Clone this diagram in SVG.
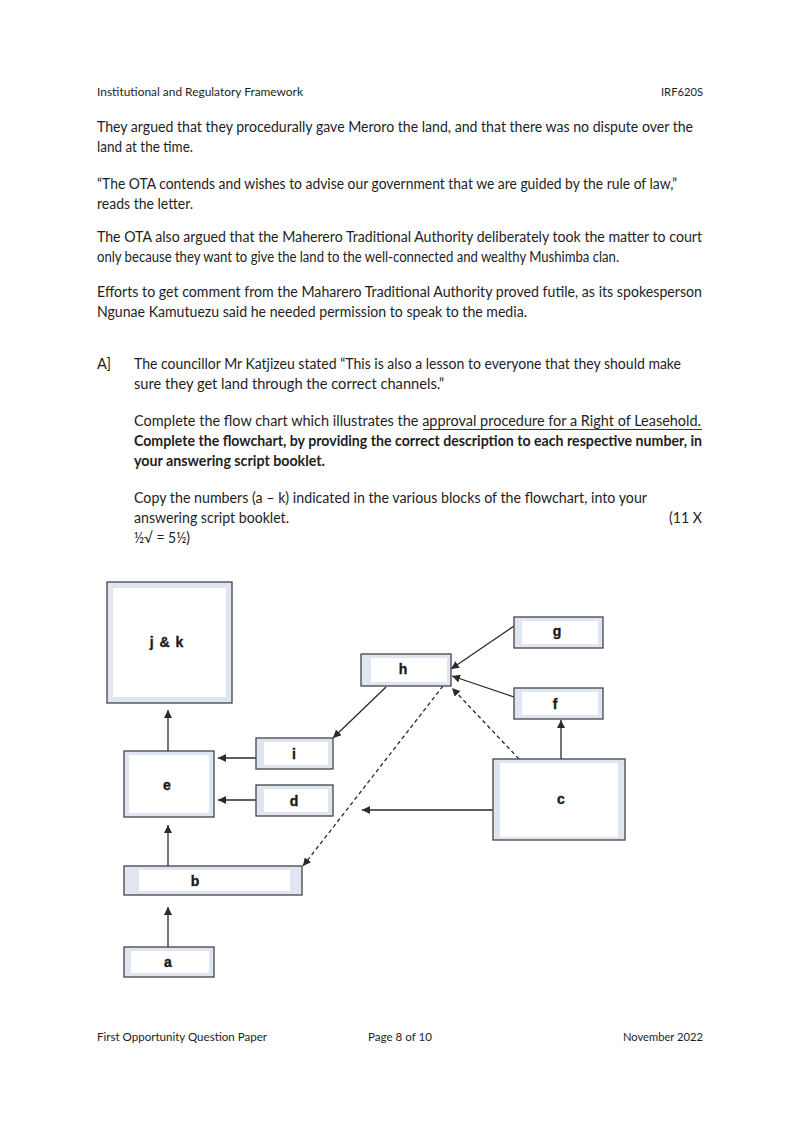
<svg xmlns="http://www.w3.org/2000/svg" width="794" height="1122" viewBox="0 0 794 1122">
<defs>
<marker id="ah" viewBox="0 0 10 10" refX="10" refY="5" markerWidth="8" markerHeight="8" markerUnits="userSpaceOnUse" orient="auto">
<path d="M0,0 L10,5 L0,10 z" fill="#2a2a2a"/>
</marker>
<style>
.t{font-family:Lato,"Open Sans","Liberation Sans",sans-serif;font-size:14.6px;fill:#1e1e1e}
.s{font-family:Lato,"Open Sans","Liberation Sans",sans-serif;font-size:11.2px;fill:#1e1e1e}
.b{font-weight:bold}
.box{fill:#dfe5f1;stroke:#444;stroke-width:1.3}
.in{fill:#fff}
.lbl{font-family:"Liberation Sans",Arial,sans-serif;font-weight:bold;font-size:14px;fill:#1a1a1a;stroke:#1a1a1a;stroke-width:0.35;text-anchor:middle}
.c{stroke:#2a2a2a;stroke-width:1.3;fill:none;marker-end:url(#ah)}
.d{stroke-dasharray:4 3}
</style>
</defs>
<rect width="794" height="1122" fill="#fff"/>

<g id="header">
<text class="s" x="97" y="96" textLength="206" lengthAdjust="spacingAndGlyphs">Institutional and Regulatory Framework</text>
<text class="s" x="703" y="96" text-anchor="end">IRF620S</text>
</g>

<g id="body">
<text class="t" x="97" y="132" textLength="596" lengthAdjust="spacingAndGlyphs">They argued that they procedurally gave Meroro the land, and that there was no dispute over the</text>
<text class="t" x="97" y="152" textLength="96" lengthAdjust="spacingAndGlyphs">land at the time.</text>
<text class="t" x="97" y="189" textLength="580" lengthAdjust="spacingAndGlyphs">“The OTA contends and wishes to advise our government that we are guided by the rule of law,”</text>
<text class="t" x="97" y="209" textLength="96" lengthAdjust="spacingAndGlyphs">reads the letter.</text>
<text class="t" x="97" y="242" textLength="605" lengthAdjust="spacingAndGlyphs">The OTA also argued that the Maherero Traditional Authority deliberately took the matter to court</text>
<text class="t" x="97" y="262" textLength="522" lengthAdjust="spacingAndGlyphs">only because they want to give the land to the well-connected and wealthy Mushimba clan.</text>
<text class="t" x="97" y="297" textLength="605" lengthAdjust="spacingAndGlyphs">Efforts to get comment from the Maharero Traditional Authority proved futile, as its spokesperson</text>
<text class="t" x="97" y="317" textLength="430" lengthAdjust="spacingAndGlyphs">Ngunae Kamutuezu said he needed permission to speak to the media.</text>

<text class="t" x="97" y="369">A]</text>
<text class="t" x="134" y="369" textLength="547" lengthAdjust="spacingAndGlyphs">The councillor Mr Katjizeu stated “This is also a lesson to everyone that they should make</text>
<text class="t" x="134" y="389" textLength="310" lengthAdjust="spacingAndGlyphs">sure they get land through the correct channels.”</text>
<text class="t" x="134" y="426" textLength="567" lengthAdjust="spacingAndGlyphs">Complete the flow chart which illustrates the approval procedure for a Right of Leasehold.</text>
<line x1="423" y1="429.5" x2="702" y2="429.5" stroke="#1e1e1e" stroke-width="0.9"/>
<text class="t b" x="134" y="446" textLength="568" lengthAdjust="spacingAndGlyphs">Complete the flowchart, by providing the correct description to each respective number, in</text>
<text class="t b" x="134" y="466" textLength="191" lengthAdjust="spacingAndGlyphs">your answering script booklet.</text>
<text class="t" x="134" y="503" textLength="513" lengthAdjust="spacingAndGlyphs">Copy the numbers (a – k) indicated in the various blocks of the flowchart, into your</text>
<text class="t" x="134" y="523" textLength="155" lengthAdjust="spacingAndGlyphs">answering script booklet.</text>
<text class="t" x="669" y="523" textLength="33" lengthAdjust="spacingAndGlyphs">(11 X</text>
<text class="t" x="134" y="543" textLength="56" lengthAdjust="spacingAndGlyphs">½√ = 5½)</text>
</g>

<g id="connectors">
<line class="c" x1="168" y1="751" x2="168" y2="710"/>
<line class="c" x1="256" y1="758" x2="218" y2="758"/>
<line class="c" x1="256" y1="800" x2="218" y2="800"/>
<line class="c" x1="168" y1="866" x2="168" y2="825"/>
<line class="c" x1="168" y1="947" x2="168" y2="907"/>
<line class="c" x1="386" y1="687" x2="333" y2="738"/>
<line class="c" x1="514" y1="626" x2="451" y2="669"/>
<line class="c" x1="514" y1="697" x2="452" y2="676"/>
<line class="c d" x1="519" y1="759" x2="452" y2="688"/>
<line class="c d" x1="443" y1="686" x2="303" y2="866"/>
<line class="c" x1="493" y1="810" x2="362" y2="810"/>
<line class="c" x1="561" y1="759" x2="561" y2="720"/>
</g>

<g id="node-jk">
<rect class="box" x="107" y="582" width="125" height="121"/>
<rect class="in" x="113" y="588" width="113" height="109"/>
<text class="lbl" x="167" y="647" letter-spacing="1">j &amp; k</text>
</g>
<g id="node-e">
<rect class="box" x="124" y="751" width="90" height="66"/>
<rect class="in" x="129" y="755" width="80" height="58"/>
<text class="lbl" x="167" y="790">e</text>
</g>
<g id="node-i">
<rect class="box" x="256" y="738" width="77" height="31"/>
<rect class="in" x="264" y="742" width="64" height="23"/>
<text class="lbl" x="294" y="759">i</text>
</g>
<g id="node-d">
<rect class="box" x="256" y="785" width="77" height="31"/>
<rect class="in" x="264" y="789" width="64" height="23"/>
<text class="lbl" x="294" y="806">d</text>
</g>
<g id="node-b">
<rect class="box" x="124" y="866" width="178" height="29"/>
<rect class="in" x="139" y="870" width="151" height="21"/>
<text class="lbl" x="195" y="886">b</text>
</g>
<g id="node-a">
<rect class="box" x="124" y="947" width="90" height="30"/>
<rect class="in" x="131" y="951" width="78" height="22"/>
<text class="lbl" x="168" y="967">a</text>
</g>
<g id="node-h">
<rect class="box" x="361" y="654" width="90" height="32"/>
<rect class="in" x="371" y="658" width="76" height="24"/>
<text class="lbl" x="403" y="674">h</text>
</g>
<g id="node-g">
<rect class="box" x="514" y="617" width="89" height="31"/>
<rect class="in" x="522" y="621" width="76" height="23"/>
<text class="lbl" x="557" y="636">g</text>
</g>
<g id="node-f">
<rect class="box" x="514" y="688" width="89" height="31"/>
<rect class="in" x="522" y="692" width="76" height="23"/>
<text class="lbl" x="555" y="709">f</text>
</g>
<g id="node-c">
<rect class="box" x="493" y="759" width="132" height="81"/>
<rect class="in" x="500" y="763" width="118" height="74"/>
<text class="lbl" x="561" y="804">c</text>
</g>

<g id="footer">
<text class="s" x="97" y="1041" textLength="170" lengthAdjust="spacingAndGlyphs">First Opportunity Question Paper</text>
<text class="s" x="368" y="1041" textLength="64" lengthAdjust="spacingAndGlyphs">Page 8 of 10</text>
<text class="s" x="703" y="1041" text-anchor="end">November 2022</text>
</g>
</svg>
